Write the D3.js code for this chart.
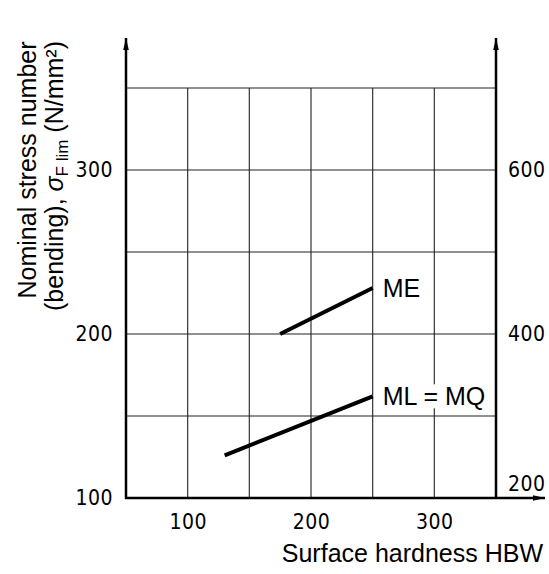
<!DOCTYPE html>
<html>
<head>
<meta charset="utf-8">
<script src="https://cdn.jsdelivr.net/npm/d3@7"></script>
<style>
  body { margin: 0; background: #fff; }
  .tick text { font-family: "DejaVu Sans Condensed", "DejaVu Sans", sans-serif; font-size: 21px; letter-spacing: 0.5px; fill: #000; }
  .lbl { font-family: "Liberation Sans", Arial, sans-serif; font-size: 25px; fill: #000; }
</style>
</head>
<body>
<div id="chart"></div>
<script>
// values
var xTicks = [100, 200, 300];
var yTicks = [100, 200, 300];
var yRightTicks = [200, 400, 600];
var xGrid = [100, 150, 200, 250, 300];
var yGrid = [150, 200, 250, 300, 350];

var seriesNames = ["ME", "ML = MQ"];
var meHardness = [175, 250];
var meStress = [200, 228];
var mlHardness = [130, 250];
var mlStress = [126, 162];

var width = 549, height = 574;

var x = d3.scaleLinear().domain([50, 350]).range([126, 496]);
var y = d3.scaleLinear().domain([100, 350]).range([498, 88]);
var yRight = d3.scaleLinear().domain([200, 700]).range([498, 88]);

var svg = d3.select("#chart")
    .append("svg")
    .attr("width", width)
    .attr("height", height);

svg.append("defs").append("marker")
    .attr("id", "arrow")
    .attr("viewBox", "0 0 12 8")
    .attr("refX", 12)
    .attr("refY", 4)
    .attr("markerUnits", "userSpaceOnUse")
    .attr("markerWidth", 12)
    .attr("markerHeight", 8)
    .attr("orient", "auto")
    .append("path")
    .attr("d", "M0,1.2 L12,4 L0,6.8 Z")
    .attr("fill", "#000");

// grid
svg.append("g")
    .selectAll("line")
    .data(xGrid)
    .enter()
    .append("line")
    .attr("x1", function(d) { return x(d); })
    .attr("x2", function(d) { return x(d); })
    .attr("y1", y(100))
    .attr("y2", y(350))
    .attr("stroke", "#333")
    .attr("stroke-width", 1.2);

svg.append("g")
    .selectAll("line")
    .data(yGrid)
    .enter()
    .append("line")
    .attr("x1", x(50))
    .attr("x2", x(350))
    .attr("y1", function(d) { return y(d); })
    .attr("y2", function(d) { return y(d); })
    .attr("stroke", "#222")
    .attr("stroke-width", 1.2);

// tick labels
var gLeft = svg.append("g")
    .attr("transform", "translate(" + x(50) + ",0)")
    .call(d3.axisLeft(y).tickValues(yTicks).tickSize(0).tickPadding(13));

var gRight = svg.append("g")
    .attr("transform", "translate(" + x(350) + ",0)")
    .call(d3.axisRight(yRight).tickValues(yRightTicks).tickSize(0).tickPadding(12));

var gBottom = svg.append("g")
    .attr("transform", "translate(0," + y(100) + ")")
    .call(d3.axisBottom(x).tickValues(xTicks).tickSize(0).tickPadding(16));

[gLeft, gRight, gBottom].forEach(function(g) {
    g.select(".domain").remove();
    g.attr("font-family", null).attr("font-size", null);
});

// lowest right label sits above the arrow
gRight.selectAll(".tick text")
    .attr("dy", function(d) { return d === 200 ? "-0.35em" : "0.32em"; });

// axes with arrows
svg.append("line")
    .attr("x1", x(50)).attr("x2", x(50))
    .attr("y1", y(100) + 1).attr("y2", 38)
    .attr("stroke", "#000").attr("stroke-width", 2.5)
    .attr("marker-end", "url(#arrow)");

svg.append("line")
    .attr("x1", x(350)).attr("x2", x(350))
    .attr("y1", y(100) + 1).attr("y2", 38)
    .attr("stroke", "#000").attr("stroke-width", 2.5)
    .attr("marker-end", "url(#arrow)");

svg.append("line")
    .attr("x1", x(50) - 1).attr("x2", 545)
    .attr("y1", y(100)).attr("y2", y(100))
    .attr("stroke", "#000").attr("stroke-width", 2.5)
    .attr("marker-end", "url(#arrow)");

// series lines
var series = [
    { name: seriesNames[0], xs: meHardness, ys: meStress },
    { name: seriesNames[1], xs: mlHardness, ys: mlStress }
];

var line = d3.line()
    .x(function(d) { return x(d[0]); })
    .y(function(d) { return y(d[1]); });

series.forEach(function(s) {
    var pts = d3.zip(s.xs, s.ys);
    svg.append("path")
        .attr("d", line(pts))
        .attr("fill", "none")
        .attr("stroke", "#000")
        .attr("stroke-width", 4);

    var last = pts[pts.length - 1];
    var bg = svg.append("rect").attr("fill", "#fff");
    var t = svg.append("text")
        .attr("class", "lbl")
        .attr("x", x(last[0]) + 10)
        .attr("y", y(last[1]))
        .attr("dy", "0.36em")
        .text(s.name);
    var bb = t.node().getBBox();
    bg.attr("x", bb.x - 2).attr("y", bb.y + 2)
      .attr("width", bb.width + 4).attr("height", bb.height - 4);
});

// axis titles
svg.append("text")
    .attr("class", "lbl")
    .attr("text-anchor", "end")
    .attr("x", 543)
    .attr("y", 562)
    .text("Surface hardness HBW");

var yTitle = svg.append("text")
    .attr("class", "lbl")
    .attr("text-anchor", "middle")
    .attr("transform", "translate(36,170) rotate(-90)");

yTitle.append("tspan")
    .attr("x", 0)
    .attr("y", 0)
    .text("Nominal stress number");

var l2 = yTitle.append("tspan")
    .attr("x", -6)
    .attr("y", 27);
l2.append("tspan").text("(bending), ");
l2.append("tspan").attr("font-style", "italic").text("σ");
l2.append("tspan").attr("font-size", "17px").attr("dy", 5).text("F lim");
l2.append("tspan").attr("dy", -5).text(" (N/mm²)");
</script>
</body>
</html>
